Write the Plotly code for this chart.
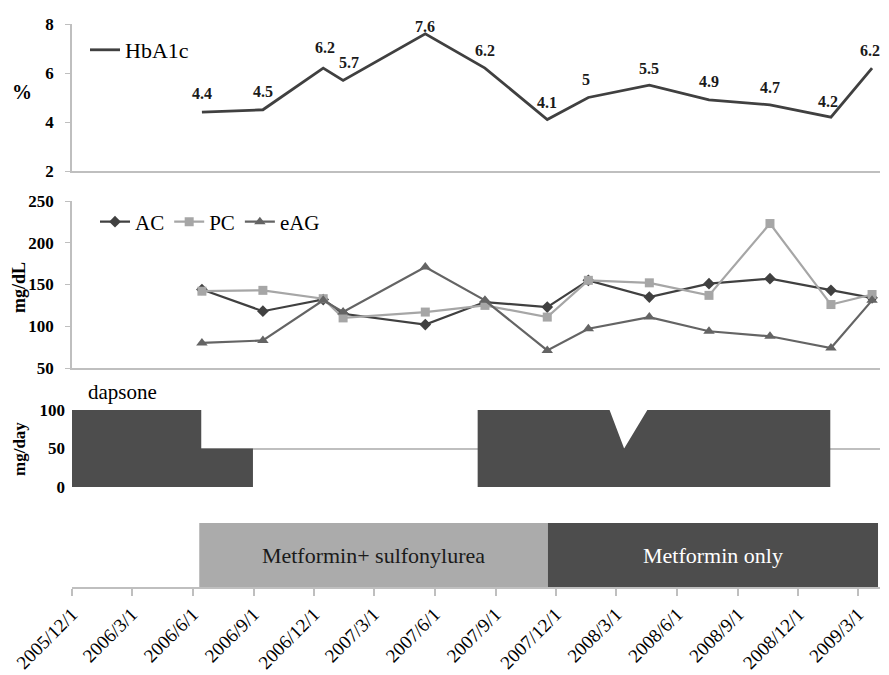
import pandas as pd
import plotly.graph_objects as go

# ---------------- data ----------------
visit_dates = ["2006-06-15", "2006-09-15", "2006-12-15", "2007-01-14", "2007-05-18",
               "2007-08-16", "2007-11-18", "2008-01-19", "2008-04-20", "2008-07-19",
               "2008-10-19", "2009-01-19", "2009-03-22"]
hba1c = [4.4, 4.5, 6.2, 5.7, 7.6, 6.2, 4.1, 5.0, 5.5, 4.9, 4.7, 4.2, 6.2]
ac = [144, 118, 132, 115, 102, 129, 123, 155, 135, 151, 157, 143, 134]
pc = [142, 143, 133, 110, 117, 125, 111, 155, 152, 137, 223, 126, 138]
eag = [80, 83, 131, 117, 171, 131, 71, 97, 111, 94, 88, 74, 131]

dapsone_dates = ["2005-12-01", "2006-06-14", "2006-06-14", "2006-08-31", "2006-08-31",
                 "2007-08-05", "2007-08-05", "2008-02-20", "2008-03-13", "2008-04-17",
                 "2009-01-18", "2009-01-18"]
dapsone_dose = [100, 100, 50, 50, 0, 0, 100, 100, 50, 100, 100, 0]

regimen_names = ["Metformin+ sulfonylurea", "Metformin only"]
regimen_start = ["2006-06-11", "2007-11-19"]
regimen_end = ["2007-11-19", "2009-03-31"]

tick_dates = ["2005-12-01", "2006-03-01", "2006-06-01", "2006-09-01", "2006-12-01",
              "2007-03-01", "2007-06-01", "2007-09-01", "2007-12-01", "2008-03-01",
              "2008-06-01", "2008-09-01", "2008-12-01", "2009-03-01"]
tick_labels = ["2005/12/1", "2006/3/1", "2006/6/1", "2006/9/1", "2006/12/1",
               "2007/3/1", "2007/6/1", "2007/9/1", "2007/12/1", "2008/3/1",
               "2008/6/1", "2008/9/1", "2008/12/1", "2009/3/1"]

# ---------------- styles ----------------
SERIF = "Liberation Serif"
AXC = "#bfbfbf"
DARK = "#4d4d4d"
label_yshift = [19, 18, 21, 18, 7, 18, 17, 18, 17, 18, 17, 16, 18]
label_xshift = [0, 0, 2, 6, 0, 0, 0, -2, 0, 0, 0, -3, -2]

durations = [(pd.Timestamp(e) - pd.Timestamp(s)).total_seconds() * 1000
             for s, e in zip(regimen_start, regimen_end)]

fig = go.Figure()

fig.add_trace(go.Scatter(x=visit_dates, y=hba1c, mode="lines", name="HbA1c",
                         line=dict(color="#404040", width=2.8),
                         xaxis="x", yaxis="y", legend="legend"))

fig.add_trace(go.Scatter(x=visit_dates, y=ac, mode="lines+markers", name="AC",
                         line=dict(color="#404040", width=2.2),
                         marker=dict(symbol="diamond", size=9, color="#404040"),
                         xaxis="x2", yaxis="y2", legend="legend2"))
fig.add_trace(go.Scatter(x=visit_dates, y=pc, mode="lines+markers", name="PC",
                         line=dict(color="#a6a6a6", width=2.2),
                         marker=dict(symbol="square", size=9, color="#a6a6a6"),
                         xaxis="x2", yaxis="y2", legend="legend2"))
fig.add_trace(go.Scatter(x=visit_dates, y=eag, mode="lines+markers", name="eAG",
                         line=dict(color="#646464", width=2.2),
                         marker=dict(symbol="triangle-up", size=10, color="#646464"),
                         xaxis="x2", yaxis="y2", legend="legend2"))

fig.add_trace(go.Scatter(x=dapsone_dates, y=dapsone_dose, mode="lines", fill="tozeroy",
                         line=dict(width=0, color=DARK), fillcolor=DARK,
                         showlegend=False, xaxis="x3", yaxis="y3"))

fig.add_trace(go.Bar(y=[0.5, 0.5], x=durations, base=regimen_start, orientation="h",
                     width=1, marker=dict(color=["#ababab", DARK], line=dict(width=0)),
                     text=regimen_names, textposition="inside", insidetextanchor="middle",
                     textfont=dict(family=SERIF, size=22, color=["#1a1a1a", "white"]),
                     showlegend=False, xaxis="x4", yaxis="y4"))

annotations = []
for d, v, ys, xs in zip(visit_dates, hba1c, label_yshift, label_xshift):
    annotations.append(dict(x=d, y=v, xref="x", yref="y", text=f"{v:g}", showarrow=False,
                            yshift=ys, xshift=xs,
                            font=dict(family=SERIF, size=16, color="#1a1a1a", weight="bold")))

annotations += [
    dict(x=22 / 889, y=1 - 92 / 675, xref="paper", yref="paper", text="%", showarrow=False,
         xanchor="center", yanchor="middle",
         font=dict(family=SERIF, size=20, color="black", weight="bold")),
    dict(x=19 / 889, y=1 - 288 / 675, xref="paper", yref="paper", text="mg/dL", showarrow=False,
         xanchor="center", yanchor="middle",
         textangle=-90, font=dict(family=SERIF, size=18, color="black", weight="bold")),
    dict(x=19 / 889, y=1 - 449 / 675, xref="paper", yref="paper", text="mg/day", showarrow=False,
         xanchor="center", yanchor="middle",
         textangle=-90, font=dict(family=SERIF, size=17, color="black", weight="bold")),
    dict(x=86 / 889, y=1 - 392 / 675, xref="paper", yref="paper", text="dapsone", showarrow=False,
         xanchor="left", yanchor="middle", font=dict(family=SERIF, size=21, color="black")),
]

xr = ["2005-12-01", "2009-04-03"]
xdom = [72 / 889, 880 / 889]
tickfont = dict(family=SERIF, size=17, color="black", weight="bold")

common_x = dict(type="date", range=xr, domain=xdom, showgrid=False, zeroline=False)

fig.update_layout(
    width=889, height=675,
    margin=dict(l=0, r=0, t=0, b=0, autoexpand=False),
    paper_bgcolor="white", plot_bgcolor="white",
    font=dict(family=SERIF, color="black"),
    xaxis=dict(**common_x, anchor="y", showline=True, linecolor=AXC, linewidth=1.5,
               showticklabels=False, ticks=""),
    xaxis2=dict(**common_x, anchor="y2", showline=True, linecolor=AXC, linewidth=1.5,
                showticklabels=False, ticks="", matches="x"),
    xaxis3=dict(**common_x, anchor="y3", showline=False, showticklabels=False, ticks="",
                matches="x"),
    xaxis4=dict(**common_x, anchor="y4", showline=True, linecolor=AXC, linewidth=1.5,
                ticks="outside", ticklen=7, tickcolor=AXC, tickwidth=1.5,
                tickmode="array", tickvals=tick_dates, ticktext=tick_labels, tickangle=-45,
                tickfont=dict(family=SERIF, size=19, color="black"), matches="x"),
    yaxis=dict(domain=[1 - 171 / 675, 1 - 24 / 675], range=[2, 8], dtick=2, tick0=2,
               showline=True, linecolor=AXC, linewidth=1.5, ticks="outside", ticklen=5,
               tickcolor=AXC, showgrid=False, zeroline=False, tickfont=tickfont,
               ticklabelstandoff=8, anchor="x"),
    yaxis2=dict(domain=[1 - 368 / 675, 1 - 201 / 675], range=[50, 250], dtick=50, tick0=50,
                showline=True, linecolor=AXC, linewidth=1.5, ticks="outside", ticklen=5,
                tickcolor=AXC, showgrid=False, zeroline=False, tickfont=tickfont,
                ticklabelstandoff=8, anchor="x2"),
    yaxis3=dict(domain=[1 - 487 / 675, 1 - 410 / 675], range=[0, 100], dtick=50, tick0=0,
                showline=False, ticks="", showgrid=True, gridcolor=AXC, gridwidth=1.5,
                zeroline=False, tickfont=tickfont, ticklabelstandoff=6, anchor="x3"),
    yaxis4=dict(domain=[1 - 587 / 675, 1 - 523 / 675], range=[0, 1], visible=False,
                anchor="x4"),
    legend=dict(x=85 / 889, y=1 - 50 / 675, xanchor="left", yanchor="middle",
                bgcolor="rgba(0,0,0,0)", font=dict(family=SERIF, size=22, color="black")),
    legend2=dict(x=95 / 889, y=1 - 222 / 675, xanchor="left", yanchor="middle",
                 orientation="h", bgcolor="rgba(0,0,0,0)",
                 font=dict(family=SERIF, size=21, color="black")),
    annotations=annotations,
    showlegend=True,
)

fig.write_html("out.html", config={"displayModeBar": False},
               post_script="document.body.style.margin='0';document.body.style.overflow='hidden';")
